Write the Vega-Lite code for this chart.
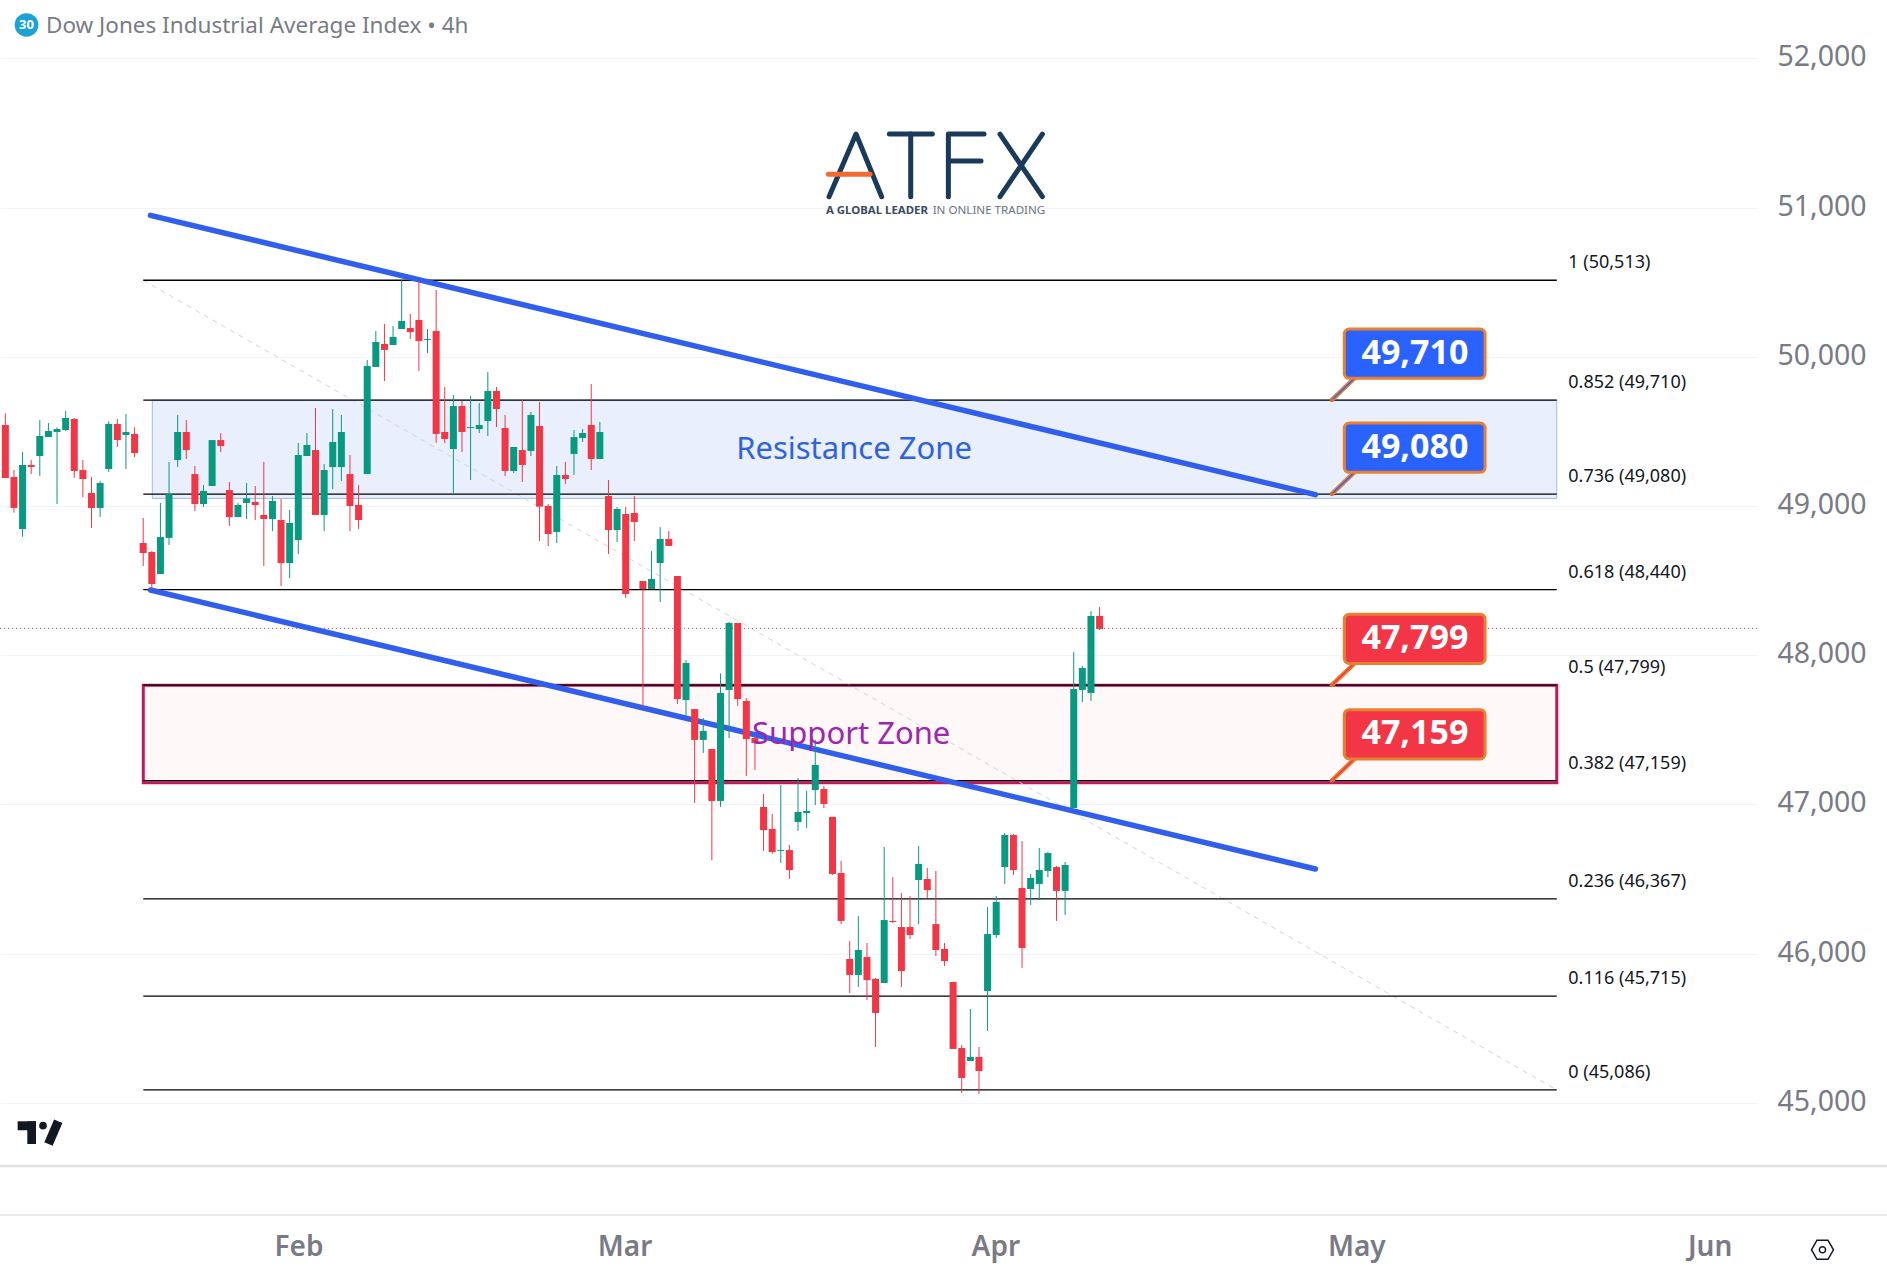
{
  "$schema": "https://vega.github.io/schema/vega-lite/v6.json",
  "description": "Dow Jones Industrial Average Index 4h candles with fibonacci levels, resistance and support zones",
  "width": 1757,
  "height": 1215,
  "autosize": "none",
  "padding": {"left": 0, "top": 0, "right": 130, "bottom": 67},
  "background": "#ffffff",
  "config": {"view": {"stroke": null}, "font": "Noto Sans"},
  "datasets": {
    "candles": [
      {"bar":0,"open":49543,"high":49621,"low":49188,"close":49188},
      {"bar":1,"open":49194,"high":49241,"low":48955,"close":48987},
      {"bar":2,"open":48846,"high":49362,"low":48794,"close":49275},
      {"bar":3,"open":49275,"high":49308,"low":49214,"close":49261},
      {"bar":4,"open":49335,"high":49576,"low":49201,"close":49469},
      {"bar":5,"open":49462,"high":49556,"low":49462,"close":49503},
      {"bar":6,"open":49496,"high":49527,"low":49013,"close":49516},
      {"bar":7,"open":49509,"high":49637,"low":49503,"close":49590},
      {"bar":8,"open":49583,"high":49590,"low":49188,"close":49235},
      {"bar":9,"open":49241,"high":49308,"low":49060,"close":49181},
      {"bar":10,"open":49087,"high":49194,"low":48853,"close":48987},
      {"bar":11,"open":48987,"high":49168,"low":48926,"close":49154},
      {"bar":12,"open":49248,"high":49567,"low":49228,"close":49550},
      {"bar":13,"open":49550,"high":49583,"low":49395,"close":49442},
      {"bar":14,"open":49476,"high":49617,"low":49248,"close":49496},
      {"bar":15,"open":49483,"high":49527,"low":49328,"close":49355},
      {"bar":16,"open":48752,"high":48920,"low":48598,"close":48685},
      {"bar":17,"open":48692,"high":48698,"low":48444,"close":48477},
      {"bar":18,"open":48544,"high":49020,"low":48544,"close":48792},
      {"bar":19,"open":48786,"high":49295,"low":48739,"close":49080},
      {"bar":20,"open":49308,"high":49610,"low":49261,"close":49496},
      {"bar":21,"open":49496,"high":49576,"low":49315,"close":49375},
      {"bar":22,"open":49214,"high":49268,"low":48966,"close":49013},
      {"bar":23,"open":49013,"high":49141,"low":48993,"close":49101},
      {"bar":24,"open":49134,"high":49442,"low":49134,"close":49442},
      {"bar":25,"open":49442,"high":49489,"low":49362,"close":49402},
      {"bar":26,"open":49107,"high":49161,"low":48866,"close":48926},
      {"bar":27,"open":48926,"high":49020,"low":48926,"close":49007},
      {"bar":28,"open":49020,"high":49154,"low":48913,"close":49051},
      {"bar":29,"open":49027,"high":49134,"low":48906,"close":49007},
      {"bar":30,"open":48940,"high":49295,"low":48598,"close":48913},
      {"bar":31,"open":48913,"high":49067,"low":48832,"close":49034},
      {"bar":32,"open":48906,"high":49047,"low":48464,"close":48618},
      {"bar":33,"open":48618,"high":48973,"low":48517,"close":48886},
      {"bar":34,"open":48772,"high":49422,"low":48678,"close":49342},
      {"bar":35,"open":49335,"high":49489,"low":49335,"close":49409},
      {"bar":36,"open":49375,"high":49657,"low":48940,"close":48940},
      {"bar":37,"open":48940,"high":49281,"low":48832,"close":49241},
      {"bar":38,"open":49261,"high":49650,"low":49114,"close":49429},
      {"bar":39,"open":49261,"high":49610,"low":49168,"close":49496},
      {"bar":40,"open":49214,"high":49342,"low":48832,"close":49000},
      {"bar":41,"open":49007,"high":49141,"low":48846,"close":48906},
      {"bar":42,"open":49214,"high":49979,"low":49214,"close":49938},
      {"bar":43,"open":49932,"high":50173,"low":49932,"close":50099},
      {"bar":44,"open":50086,"high":50220,"low":49838,"close":50046},
      {"bar":45,"open":50079,"high":50206,"low":50079,"close":50133},
      {"bar":46,"open":50186,"high":50512,"low":50186,"close":50240},
      {"bar":47,"open":50193,"high":50287,"low":50119,"close":50166},
      {"bar":48,"open":50247,"high":50510,"low":49905,"close":50106},
      {"bar":49,"open":50113,"high":50186,"low":50025,"close":50119},
      {"bar":50,"open":50173,"high":50448,"low":49424,"close":49483},
      {"bar":51,"open":49496,"high":49798,"low":49422,"close":49449},
      {"bar":52,"open":49382,"high":49744,"low":49087,"close":49670},
      {"bar":53,"open":49670,"high":49704,"low":49362,"close":49496},
      {"bar":54,"open":49523,"high":49737,"low":49174,"close":49529},
      {"bar":55,"open":49516,"high":49690,"low":49489,"close":49543},
      {"bar":56,"open":49570,"high":49898,"low":49469,"close":49771},
      {"bar":57,"open":49771,"high":49798,"low":49529,"close":49650},
      {"bar":58,"open":49523,"high":49610,"low":49201,"close":49235},
      {"bar":59,"open":49235,"high":49395,"low":49221,"close":49395},
      {"bar":60,"open":49375,"high":49717,"low":49161,"close":49275},
      {"bar":61,"open":49369,"high":49630,"low":49335,"close":49610},
      {"bar":62,"open":49536,"high":49697,"low":48765,"close":48996},
      {"bar":63,"open":49000,"high":49013,"low":48732,"close":48812},
      {"bar":64,"open":48826,"high":49268,"low":48752,"close":49208},
      {"bar":65,"open":49208,"high":49295,"low":49147,"close":49181},
      {"bar":66,"open":49349,"high":49509,"low":49208,"close":49462},
      {"bar":67,"open":49456,"high":49516,"low":49429,"close":49489},
      {"bar":68,"open":49543,"high":49818,"low":49241,"close":49315},
      {"bar":69,"open":49315,"high":49563,"low":49315,"close":49496},
      {"bar":70,"open":49067,"high":49174,"low":48678,"close":48839},
      {"bar":71,"open":48839,"high":48993,"low":48759,"close":48980},
      {"bar":72,"open":48946,"high":48993,"low":48383,"close":48410},
      {"bar":73,"open":48953,"high":49067,"low":48765,"close":48893},
      {"bar":74,"open":48497,"high":48497,"low":47644,"close":48444},
      {"bar":75,"open":48444,"high":48698,"low":48444,"close":48511},
      {"bar":76,"open":48618,"high":48859,"low":48357,"close":48779},
      {"bar":77,"open":48779,"high":48832,"low":48732,"close":48732},
      {"bar":78,"open":48531,"high":48531,"low":47673,"close":47706},
      {"bar":79,"open":47700,"high":47968,"low":47586,"close":47948},
      {"bar":80,"open":47639,"high":47639,"low":47009,"close":47432},
      {"bar":81,"open":47432,"high":47579,"low":47345,"close":47492},
      {"bar":82,"open":47371,"high":47371,"low":46625,"close":47023},
      {"bar":83,"open":47023,"high":47878,"low":46983,"close":47747},
      {"bar":84,"open":47767,"high":48223,"low":47445,"close":48216},
      {"bar":85,"open":48216,"high":48216,"low":47660,"close":47706},
      {"bar":86,"open":47693,"high":47713,"low":47190,"close":47438},
      {"bar":87,"open":47445,"high":47454,"low":47231,"close":47412},
      {"bar":88,"open":46983,"high":47070,"low":46688,"close":46828},
      {"bar":89,"open":46835,"high":46936,"low":46668,"close":46681},
      {"bar":90,"open":46688,"high":47130,"low":46607,"close":46694},
      {"bar":91,"open":46694,"high":46728,"low":46500,"close":46560},
      {"bar":92,"open":46882,"high":47177,"low":46822,"close":46949},
      {"bar":93,"open":46942,"high":47090,"low":46842,"close":46956},
      {"bar":94,"open":47097,"high":47432,"low":46996,"close":47264},
      {"bar":95,"open":47103,"high":47123,"low":46976,"close":47003},
      {"bar":96,"open":46916,"high":46916,"low":46527,"close":46534},
      {"bar":97,"open":46540,"high":46621,"low":46198,"close":46219},
      {"bar":98,"open":45964,"high":46085,"low":45736,"close":45857},
      {"bar":99,"open":45857,"high":46252,"low":45776,"close":46024},
      {"bar":100,"open":45977,"high":46071,"low":45689,"close":45823},
      {"bar":101,"open":45830,"high":45836,"low":45374,"close":45602},
      {"bar":102,"open":45803,"high":46715,"low":45803,"close":46225},
      {"bar":103,"open":46219,"high":46513,"low":46205,"close":46212},
      {"bar":104,"open":46178,"high":46406,"low":45776,"close":45883},
      {"bar":105,"open":46178,"high":46386,"low":46098,"close":46125},
      {"bar":106,"open":46493,"high":46721,"low":46198,"close":46601},
      {"bar":107,"open":46500,"high":46574,"low":46373,"close":46426},
      {"bar":108,"open":46198,"high":46554,"low":45984,"close":46024},
      {"bar":109,"open":46031,"high":46071,"low":45917,"close":45950},
      {"bar":110,"open":45810,"high":45810,"low":45361,"close":45361},
      {"bar":111,"open":45367,"high":45387,"low":45066,"close":45166},
      {"bar":112,"open":45280,"high":45629,"low":45280,"close":45307},
      {"bar":113,"open":45307,"high":45374,"low":45059,"close":45213},
      {"bar":114,"open":45749,"high":46312,"low":45481,"close":46131},
      {"bar":115,"open":46125,"high":46386,"low":46105,"close":46346},
      {"bar":116,"open":46580,"high":46808,"low":46467,"close":46795},
      {"bar":117,"open":46795,"high":46802,"low":46527,"close":46560},
      {"bar":118,"open":46440,"high":46755,"low":45904,"close":46038},
      {"bar":119,"open":46433,"high":46534,"low":46326,"close":46507},
      {"bar":120,"open":46467,"high":46708,"low":46359,"close":46560},
      {"bar":121,"open":46554,"high":46681,"low":46513,"close":46674},
      {"bar":122,"open":46580,"high":46587,"low":46219,"close":46420},
      {"bar":123,"open":46420,"high":46614,"low":46259,"close":46594},
      {"bar":124,"open":46976,"high":48021,"low":46976,"close":47773},
      {"bar":125,"open":47767,"high":47928,"low":47686,"close":47914},
      {"bar":126,"open":47747,"high":48296,"low":47693,"close":48263},
      {"bar":127,"open":48263,"high":48323,"low":48169,"close":48176}
    ],
    "levels": [
      {"bar":16.01,"bar2":180.06,"price":50513},
      {"bar":16.01,"bar2":180.06,"price":49710},
      {"bar":16.01,"bar2":180.06,"price":49080},
      {"bar":16.01,"bar2":180.06,"price":48440},
      {"bar":16.01,"bar2":180.06,"price":47799},
      {"bar":16.01,"bar2":180.06,"price":47159},
      {"bar":16.01,"bar2":180.06,"price":46367},
      {"bar":16.01,"bar2":180.06,"price":45715},
      {"bar":16.01,"bar2":180.06,"price":45086}
    ],
    "levelLabels": [
      {"bar":181.4,"price":50513,"text":"1 (50,513)"},
      {"bar":181.4,"price":49710,"text":"0.852 (49,710)"},
      {"bar":181.4,"price":49080,"text":"0.736 (49,080)"},
      {"bar":181.4,"price":48440,"text":"0.618 (48,440)"},
      {"bar":181.4,"price":47799,"text":"0.5 (47,799)"},
      {"bar":181.4,"price":47159,"text":"0.382 (47,159)"},
      {"bar":181.4,"price":46367,"text":"0.236 (46,367)"},
      {"bar":181.4,"price":45715,"text":"0.116 (45,715)"},
      {"bar":181.4,"price":45086,"text":"0 (45,086)"}
    ],
    "channel": [
      {"line":"upper","bar":16.84,"price":50948},
      {"line":"upper","bar":152.05,"price":49076},
      {"line":"lower","bar":16.84,"price":48437},
      {"line":"lower","bar":152.05,"price":46567}
    ],
    "boxes": [
      {"kind":"resistance","bar":155.4,"bar2":171.74,"price":50186,"price2":49856},
      {"kind":"resistance","bar":155.4,"bar2":171.74,"price":49556,"price2":49226},
      {"kind":"support","bar":155.4,"bar2":171.74,"price":48275,"price2":47945},
      {"kind":"support","bar":155.4,"bar2":171.74,"price":47635,"price2":47305}
    ],
    "boxLabels": [
      {"bar":163.6,"price":50021,"text":"49,710"},
      {"bar":163.6,"price":49391,"text":"49,080"},
      {"bar":163.6,"price":48110,"text":"47,799"},
      {"bar":163.6,"price":47470,"text":"47,159"}
    ],
    "tails": [
      {"box":"a","kind":"resistance","bar":153.94,"price":49710},
      {"box":"a","kind":"resistance","bar":156.65,"price":49860},
      {"box":"b","kind":"resistance","bar":153.94,"price":49080},
      {"box":"b","kind":"resistance","bar":156.65,"price":49230},
      {"box":"c","kind":"support","bar":153.94,"price":47799},
      {"box":"c","kind":"support","bar":156.65,"price":47949},
      {"box":"d","kind":"support","bar":153.94,"price":47159},
      {"box":"d","kind":"support","bar":156.65,"price":47309}
    ],
    "logo": [
      {"stroke":"A","bar":95.6,"price":51073},
      {"stroke":"A","bar":98.73,"price":51493},
      {"stroke":"A","bar":101.71,"price":51073},
      {"stroke":"T1","bar":102.6,"price":51493},
      {"stroke":"T1","bar":107.59,"price":51493},
      {"stroke":"T2","bar":105.08,"price":51493},
      {"stroke":"T2","bar":105.08,"price":51073},
      {"stroke":"F1","bar":109.45,"price":51073},
      {"stroke":"F1","bar":109.45,"price":51493},
      {"stroke":"F1","bar":113.59,"price":51493},
      {"stroke":"F2","bar":109.45,"price":51312},
      {"stroke":"F2","bar":113.24,"price":51312},
      {"stroke":"X1","bar":115.44,"price":51493},
      {"stroke":"X1","bar":120.36,"price":51073},
      {"stroke":"X2","bar":120.36,"price":51493},
      {"stroke":"X2","bar":115.44,"price":51073}
    ]
  },
  "encoding": {
    "x": {
      "field": "bar",
      "type": "quantitative",
      "title": null,
      "scale": {"domain": [-0.619, 203.3], "nice": false, "zero": false, "padding": 0},
      "axis": {
        "values": [34.03, 71.87, 114.9, 156.8, 197.8],
        "labelExpr": "datum.value<50?'Feb':datum.value<90?'Mar':datum.value<130?'Apr':datum.value<175?'May':'Jun'",
        "grid": false,
        "domain": false,
        "ticks": false,
        "labelPadding": 18,
        "labelFontSize": 28,
        "labelFontWeight": 600,
        "labelColor": "#787b86",
        "labelFont": "Noto Sans"
      }
    },
    "y": {
      "field": "price",
      "type": "quantitative",
      "title": null,
      "scale": {"domain": [44248, 52391.4], "nice": false, "zero": false},
      "axis": {
        "orient": "right",
        "values": [45000, 46000, 47000, 48000, 49000, 50000, 51000, 52000],
        "format": ",d",
        "grid": true,
        "gridColor": "#f0f3fa",
        "gridWidth": 1,
        "domain": false,
        "ticks": false,
        "labelPadding": 20,
        "labelOffset": -1.5,
        "labelFontSize": 28.5,
        "labelColor": "#787b86",
        "labelFont": "Noto Sans"
      }
    }
  },
  "layer": [
    {
      "data": {"values": [{"bar":17.06,"bar2":180.06,"price":49710,"price2":49051}]},
      "mark": {"type": "rect", "fill": "#e9effc", "stroke": "#9dbcea", "strokeWidth": 1},
      "encoding": {"x2": {"field": "bar2"}, "y2": {"field": "price2"}}
    },
    {
      "data": {"values": [{"bar":16.01,"bar2":180.06,"price":47799,"price2":47145}]},
      "mark": {"type": "rect", "fill": "#fef8f9", "stroke": "#c2185b", "strokeWidth": 3},
      "encoding": {"x2": {"field": "bar2"}, "y2": {"field": "price2"}}
    },
    {
      "data": {"values": [{"bar":16.01,"price":50513},{"bar":180.06,"price":45086}]},
      "mark": {"type": "line", "color": "#d1d4dc", "strokeWidth": 1, "strokeDash": [5, 5]}
    },
    {
      "data": {"values": [{"bar":-0.619,"bar2":203.3,"price":48180}]},
      "mark": {"type": "rule", "color": "#f23645", "strokeWidth": 1, "strokeDash": [1, 3]},
      "encoding": {"x2": {"field": "bar2"}}
    },
    {
      "data": {"name": "levels"},
      "mark": {"type": "rule", "color": "#000000", "strokeWidth": 1.3},
      "encoding": {"x2": {"field": "bar2"}}
    },
    {
      "data": {"name": "levelLabels"},
      "mark": {"type": "text", "align": "left", "baseline": "middle", "dy": -17, "fontSize": 18, "color": "#131722"},
      "encoding": {"text": {"field": "text"}}
    },
    {
      "data": {"name": "channel"},
      "mark": {"type": "line", "color": "#2f5fec", "strokeWidth": 5.5, "strokeCap": "round"},
      "encoding": {"detail": {"field": "line"}}
    },
    {
      "data": {"name": "candles"},
      "mark": {"type": "rule", "strokeWidth": 1},
      "encoding": {
        "y": {
          "field": "high",
          "type": "quantitative",
          "title": null,
          "scale": {"domain": [44248, 52391.4], "nice": false, "zero": false},
          "axis": {
            "orient": "right",
            "values": [45000, 46000, 47000, 48000, 49000, 50000, 51000, 52000],
            "format": ",d",
            "grid": true,
            "gridColor": "#f0f3fa",
            "gridWidth": 1,
            "domain": false,
            "ticks": false,
            "labelPadding": 20,
            "labelOffset": -1.5,
            "labelFontSize": 28.5,
            "labelColor": "#787b86",
            "labelFont": "Noto Sans"
          }
        },
        "y2": {"field": "low"},
        "color": {"condition": {"test": "datum.close<datum.open", "value": "#f23645"}, "value": "#089981"}
      }
    },
    {
      "data": {"name": "candles"},
      "mark": {"type": "bar", "size": 7},
      "encoding": {
        "y": {
          "field": "open",
          "type": "quantitative",
          "title": null,
          "scale": {"domain": [44248, 52391.4], "nice": false, "zero": false},
          "axis": {
            "orient": "right",
            "values": [45000, 46000, 47000, 48000, 49000, 50000, 51000, 52000],
            "format": ",d",
            "grid": true,
            "gridColor": "#f0f3fa",
            "gridWidth": 1,
            "domain": false,
            "ticks": false,
            "labelPadding": 20,
            "labelOffset": -1.5,
            "labelFontSize": 28.5,
            "labelColor": "#787b86",
            "labelFont": "Noto Sans"
          }
        },
        "y2": {"field": "close"},
        "color": {"condition": {"test": "datum.close<datum.open", "value": "#f23645"}, "value": "#089981"}
      }
    },
    {
      "data": {"values": [{"bar":98.5,"price":49373,"text":"Resistance Zone"}]},
      "mark": {"type": "text", "align": "center", "baseline": "middle", "fontSize": 31, "color": "#2f62e0"},
      "encoding": {"text": {"field": "text"}}
    },
    {
      "data": {"values": [{"bar":86.67,"price":47463,"text":"Support Zone"}]},
      "mark": {"type": "text", "align": "left", "baseline": "middle", "fontSize": 31, "color": "#9c27b0"},
      "encoding": {"text": {"field": "text"}}
    },
    {
      "data": {"name": "tails"},
      "mark": {"type": "line", "strokeWidth": 4.5, "color": "#e8802f"},
      "encoding": {"detail": {"field": "box"}}
    },
    {
      "data": {"name": "tails"},
      "mark": {"type": "line", "strokeWidth": 1.5},
      "encoding": {
        "detail": {"field": "box"},
        "color": {"field": "kind", "type": "nominal", "legend": null, "scale": {"domain": ["resistance", "support"], "range": ["#2962ff", "#f23645"]}}
      }
    },
    {
      "data": {"values": [{"bar":153.94,"price":49710},{"bar":153.94,"price":49080},{"bar":153.94,"price":47799},{"bar":153.94,"price":47159}]},
      "mark": {"type": "circle", "size": 18, "color": "#d0703a", "opacity": 1}
    },
    {
      "data": {"name": "boxes"},
      "mark": {"type": "rect", "cornerRadius": 5, "stroke": "#e8802f", "strokeWidth": 3},
      "encoding": {
        "x2": {"field": "bar2"},
        "y2": {"field": "price2"},
        "fill": {"field": "kind", "type": "nominal", "legend": null, "scale": {"domain": ["resistance", "support"], "range": ["#2962ff", "#f23645"]}}
      }
    },
    {
      "data": {"name": "boxLabels"},
      "mark": {"type": "text", "align": "center", "baseline": "middle", "fontSize": 34, "fontWeight": "bold", "color": "#ffffff"},
      "encoding": {"text": {"field": "text"}}
    },
    {
      "data": {"name": "logo"},
      "mark": {"type": "line", "color": "#1a3a5c", "strokeWidth": 5, "strokeCap": "round", "strokeJoin": "round"},
      "encoding": {"detail": {"field": "stroke"}, "order": {"field": "seq"}}
    },
    {
      "data": {"values": [{"bar":95.52,"price":51223},{"bar":100.36,"price":51223}]},
      "mark": {"type": "line", "color": "#f26a2e", "strokeWidth": 5, "strokeCap": "round"}
    },
    {
      "data": {"values": [{"bar":95.25,"price":50977,"text":"A GLOBAL LEADER"}]},
      "mark": {"type": "text", "align": "left", "baseline": "middle", "fontSize": 11.4, "fontWeight": "bold", "color": "#3a4a5c"},
      "encoding": {"text": {"field": "text"}}
    },
    {
      "data": {"values": [{"bar":107.63,"price":50977,"text":"IN ONLINE TRADING"}]},
      "mark": {"type": "text", "align": "left", "baseline": "middle", "fontSize": 11.6, "color": "#6a7480"},
      "encoding": {"text": {"field": "text"}}
    },
    {
      "data": {"values": [{"bar":2.46,"price":52224}]},
      "mark": {"type": "circle", "size": 560, "color": "#1ba3d6", "opacity": 1}
    },
    {
      "data": {"values": [{"bar":2.46,"price":52224,"text":"30"}]},
      "mark": {"type": "text", "align": "center", "baseline": "middle", "fontSize": 13, "fontWeight": "bold", "color": "#ffffff"},
      "encoding": {"text": {"field": "text"}}
    },
    {
      "data": {"values": [{"bar":4.72,"price":52216,"text":"Dow Jones Industrial Average Index • 4h"}]},
      "mark": {"type": "text", "align": "left", "baseline": "middle", "fontSize": 22.5, "color": "#787b86"},
      "encoding": {"text": {"field": "text"}}
    },
    {
      "data": {"values": [{"bar":1.43,"bar2":3.56,"price":44876,"price2":44816},{"bar":2.55,"bar2":3.56,"price":44876,"price2":44724}]},
      "mark": {"type": "rect", "fill": "#131722"},
      "encoding": {"x2": {"field": "bar2"}, "y2": {"field": "price2"}}
    },
    {
      "data": {"values": [{"bar":4.37,"price":44847}]},
      "mark": {"type": "circle", "size": 58, "color": "#131722", "opacity": 1}
    },
    {
      "data": {"values": [{"bar":6.14,"price":44876},{"bar":5.01,"price":44724}]},
      "mark": {"type": "line", "color": "#131722", "strokeWidth": 9}
    },
    {
      "data": {"values": [{"bar":-0.619,"bar2":218.4,"price":44576}]},
      "mark": {"type": "rule", "color": "#e3e3e3", "strokeWidth": 2.5},
      "encoding": {"x2": {"field": "bar2"}}
    },
    {
      "data": {"values": [{"bar":-0.619,"bar2":218.4,"price":44248}]},
      "mark": {"type": "rule", "color": "#e3e3e3", "strokeWidth": 1.5},
      "encoding": {"x2": {"field": "bar2"}}
    },
    {
      "data": {"values": [{"bar":210.9,"price":44015}]},
      "mark": {"type": "point", "shape": "M-1,0L-0.5,-0.87L0.5,-0.87L1,0L0.5,0.87L-0.5,0.87Z", "size": 484, "stroke": "#131722", "strokeWidth": 1.5, "fill": null, "opacity": 1}
    },
    {
      "data": {"values": [{"bar":210.9,"price":44015}]},
      "mark": {"type": "point", "shape": "circle", "size": 38, "stroke": "#131722", "strokeWidth": 1.5, "fill": null, "opacity": 1}
    }
  ]
}
